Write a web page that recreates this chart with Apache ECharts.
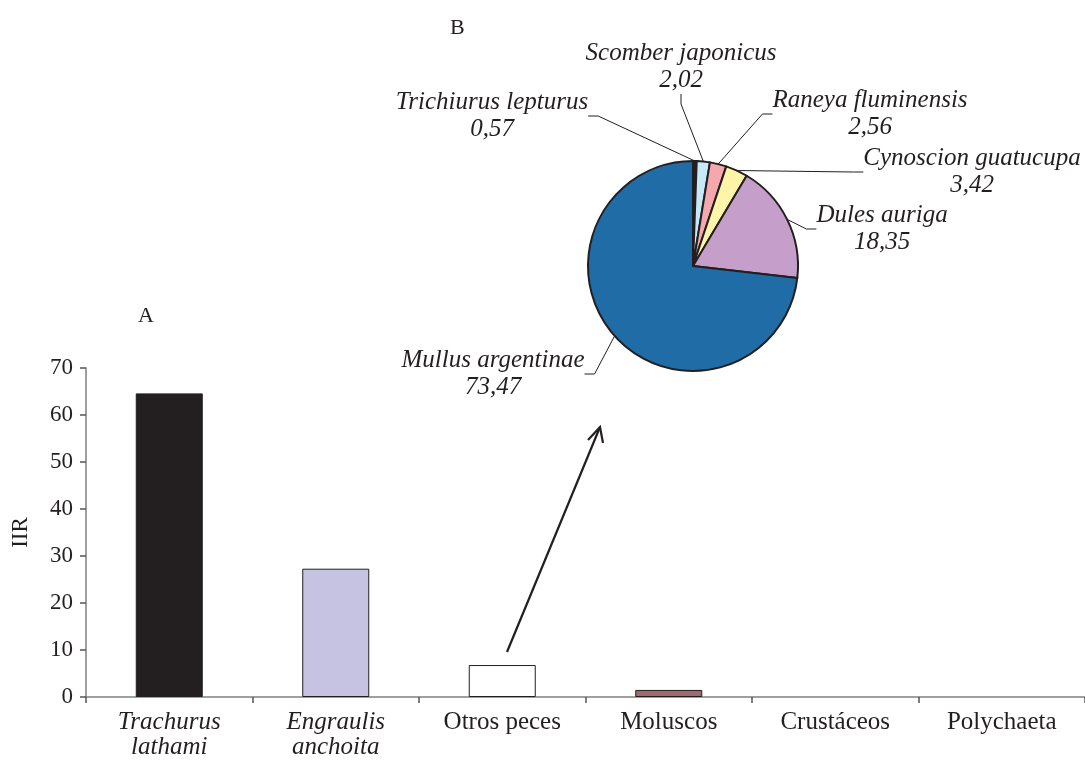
<!DOCTYPE html>
<html>
<head>
<meta charset="utf-8">
<script src="https://cdn.jsdelivr.net/npm/echarts@6/dist/echarts.min.js"></script>
<style>
  html, body { margin: 0; padding: 0; background: #fff; }
  #chart { width: 1085px; height: 762px; }
</style>
</head>
<body>
<div id="chart"></div>
<script>
// Panel A: prey categories and their IIR
const barCategories = ['Trachurus lathami', 'Engraulis anchoita', 'Otros peces', 'Moluscos', 'Crustáceos', 'Polychaeta'];
const barValues = [64.6, 27.3, 6.8, 1.5, 0, 0];
const barColors = ['#231f20', '#c5c3e1', '#ffffff', '#9e6a6e', '#ffffff', '#ffffff'];
const italicCategories = ['Trachurus lathami', 'Engraulis anchoita'];
const yTicks = [0, 10, 20, 30, 40, 50, 60, 70];

// Panel B: breakdown of "Otros peces"
const pieNames = ['Trichiurus lepturus', 'Scomber japonicus', 'Raneya fluminensis', 'Cynoscion guatucupa', 'Dules auriga', 'Mullus argentinae'];
const pieValues = [0.57, 2.02, 2.56, 3.42, 18.35, 73.47];
const pieColors = ['#231f20', '#c6e8f7', '#f4a8ab', '#fff5a8', '#c59fc9', '#1f6ca6'];

// label anchor points for the pie callouts (centre of each text block)
const pieLabelSpots = [[492, 116], [681, 67], [870, 114], [972, 172], [882, 229], [493, 374]];

const serif = "'Liberation Serif', 'Times New Roman', serif";
const ink = '#231f20';

const chart = echarts.init(document.getElementById('chart'), null, { renderer: 'canvas' });

const fmtComma = v => v.toFixed(2).replace('.', ',');

chart.setOption({
  backgroundColor: '#ffffff',
  animation: false,
  title: [
    { text: 'A', left: 133, top: 300, textStyle: { fontFamily: serif, fontSize: 22, fontWeight: 'normal', color: ink } },
    { text: 'B', left: 445, top: 12, textStyle: { fontFamily: serif, fontSize: 22, fontWeight: 'normal', color: ink } }
  ],
  grid: { left: 86, top: 368, width: 1000, height: 329, containLabel: false },
  xAxis: {
    type: 'category',
    data: barCategories,
    axisLine: { lineStyle: { color: '#808080', width: 1.5 } },
    axisTick: { show: true, length: 6, lineStyle: { color: '#555', width: 1.5 } },
    axisLabel: {
      interval: 0,
      margin: 13,
      fontFamily: serif,
      fontSize: 25,
      color: ink,
      lineHeight: 25,
      formatter: function (v) {
        if (italicCategories.indexOf(v) >= 0) {
          return v.split(' ').map(w => '{i|' + w + '}').join('\n');
        }
        return v;
      },
      rich: { i: { fontFamily: serif, fontSize: 25, fontStyle: 'italic', color: ink, lineHeight: 25 } }
    }
  },
  yAxis: {
    type: 'value',
    min: yTicks[0],
    max: yTicks[yTicks.length - 1],
    interval: 10,
    name: 'IIR',
    nameLocation: 'middle',
    nameGap: 54,
    nameTextStyle: { fontFamily: serif, fontSize: 23, color: ink },
    splitLine: { show: false },
    axisLine: { show: true, lineStyle: { color: '#808080', width: 1.5 } },
    axisTick: { show: true, length: 6, lineStyle: { color: '#555', width: 1.5 } },
    axisLabel: { fontFamily: serif, fontSize: 23, color: ink, margin: 13 }
  },
  series: [
    {
      type: 'bar',
      data: barValues.map((v, i) => ({
        value: v,
        itemStyle: { color: barColors[i], borderWidth: v > 0 ? 1 : 0 }
      })),
      barWidth: 67,
      itemStyle: { borderColor: ink }
    },
    {
      type: 'pie',
      center: [693, 266],
      radius: 105,
      startAngle: 90,
      clockwise: true,
      silent: true,
      itemStyle: { borderColor: ink, borderWidth: 2 },
      data: pieValues.map((v, i) => ({
        name: pieNames[i],
        value: v,
        itemStyle: { color: pieColors[i] }
      })),
      label: {
        show: true,
        position: 'outside',
        fontFamily: serif,
        fontSize: 25,
        fontStyle: 'italic',
        color: ink,
        lineHeight: 27,
        align: 'center',
        formatter: p => p.name + '\n' + fmtComma(p.value)
      },
      labelLine: { show: true, length: 10, length2: 10, lineStyle: { color: ink, width: 1 } },
      labelLayout: function (params) {
        const s = pieLabelSpots[params.dataIndex];
        return { x: s[0], y: s[1], align: 'center', verticalAlign: 'middle' };
      }
    }
  ],
  graphic: [
    {
      type: 'line',
      shape: { x1: 507, y1: 652, x2: 600, y2: 427 },
      style: { stroke: ink, lineWidth: 2.2 }
    },
    {
      type: 'polyline',
      shape: { points: [[588, 440], [600, 427], [603, 443]] },
      style: { stroke: ink, lineWidth: 2.2, fill: null }
    }
  ]
});
</script>
</body>
</html>
